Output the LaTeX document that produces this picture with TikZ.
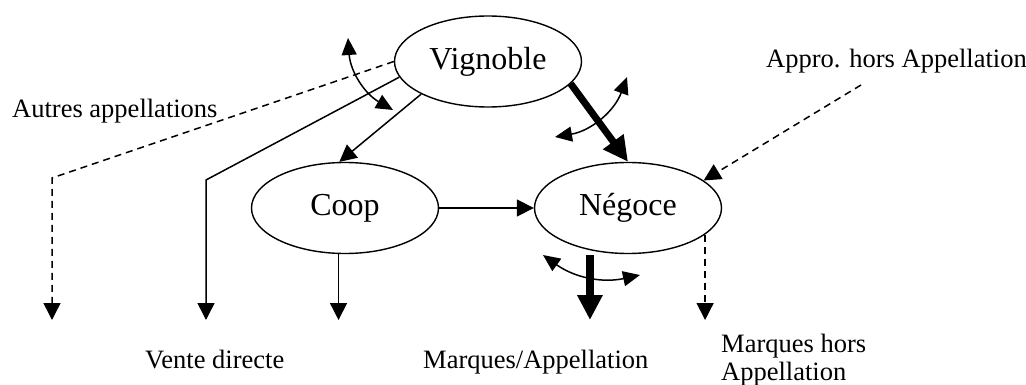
\documentclass[tikz,border=0pt]{standalone}
\usepackage{fontspec}
\setmainfont{Liberation Serif}
\usetikzlibrary{shapes.geometric,arrows.meta}

\begin{document}
\begin{tikzpicture}[x=1pt,y=1pt,
  actor/.style={draw,ellipse,line width=1.4pt,minimum width=187pt,minimum height=91pt,font=\fontsize{32}{38}\selectfont},
  lbl/.style={font=\fontsize{26.5}{27.5}\selectfont},
  flow/.style={line width=1.5pt,-{Triangle[length=17pt,width=17pt]}},
  other/.style={flow,dash pattern=on 7pt off 5pt},
  main/.style={-{Triangle[length=25pt,width=24pt]}},
  swing/.style={line width=1.5pt,{Triangle[length=17pt,width=15pt]}-{Triangle[length=17pt,width=15pt]}}]
\tikzstyle{every node}+=[inner sep=0pt]
\useasboundingbox (0,0) rectangle (1026,-385);
\node [actor] (vig) at (488,-61.5) {Vignoble};
\node [actor] (coop) at (345,-208) {Coop};
\node [actor] (neg) at (628,-208) {Négoce};
\node [lbl,anchor=base west] (autres) at (12,-118) {Autres appellations};
\node [lbl,anchor=base west] (appro) at (766,-68) {Appro. hors Appellation};
\node [lbl,anchor=base west] (vente) at (145,-368) {Vente directe};
\node [lbl,anchor=base west] (mapp) at (423,-368) {Marques/Appellation};
\node [lbl,anchor=base west,align=left] (mhors) at (721,-380) {Marques hors\\Appellation};
\coordinate (kautres) at (52,-178);
\coordinate (kvente) at (206,-180);
\coordinate (kappro) at (861,-85);
\coordinate (bottom) at (0,-320);
\coordinate (s1a) at (348,-38);
\coordinate (s1b) at (393,-110);
\coordinate (s2a) at (555,-137);
\coordinate (s2b) at (627,-77);
\coordinate (s3a) at (543,-255);
\coordinate (s3b) at (640,-275);
\draw [other] (vig.west) -- (kautres) -- (kautres |- bottom);
\draw [flow] (vig.190) -- (kvente) -- (kvente |- bottom);
\draw [flow] (vig.206) -- (coop.97);
\draw [flow] (coop.east) -- (neg.west);
\draw [flow] (coop.262) -- (coop.262 |- bottom);
\draw [main,line width=7pt] (vig.-15) -- (neg.north);
\draw [main,line width=8pt] ([yshift=-5pt]neg.228) -- (neg.228 |- bottom);
\draw [other] (neg.-19) -- (neg.-19 |- bottom);
\draw [other] (kappro) -- (neg.20);
\draw [swing] (s1a) to [bend right=28] (s1b);
\draw [swing] (s2a) to [bend right=30] (s2b);
\draw [swing] (s3a) to [bend right=24] (s3b);
\end{tikzpicture}
\end{document}
